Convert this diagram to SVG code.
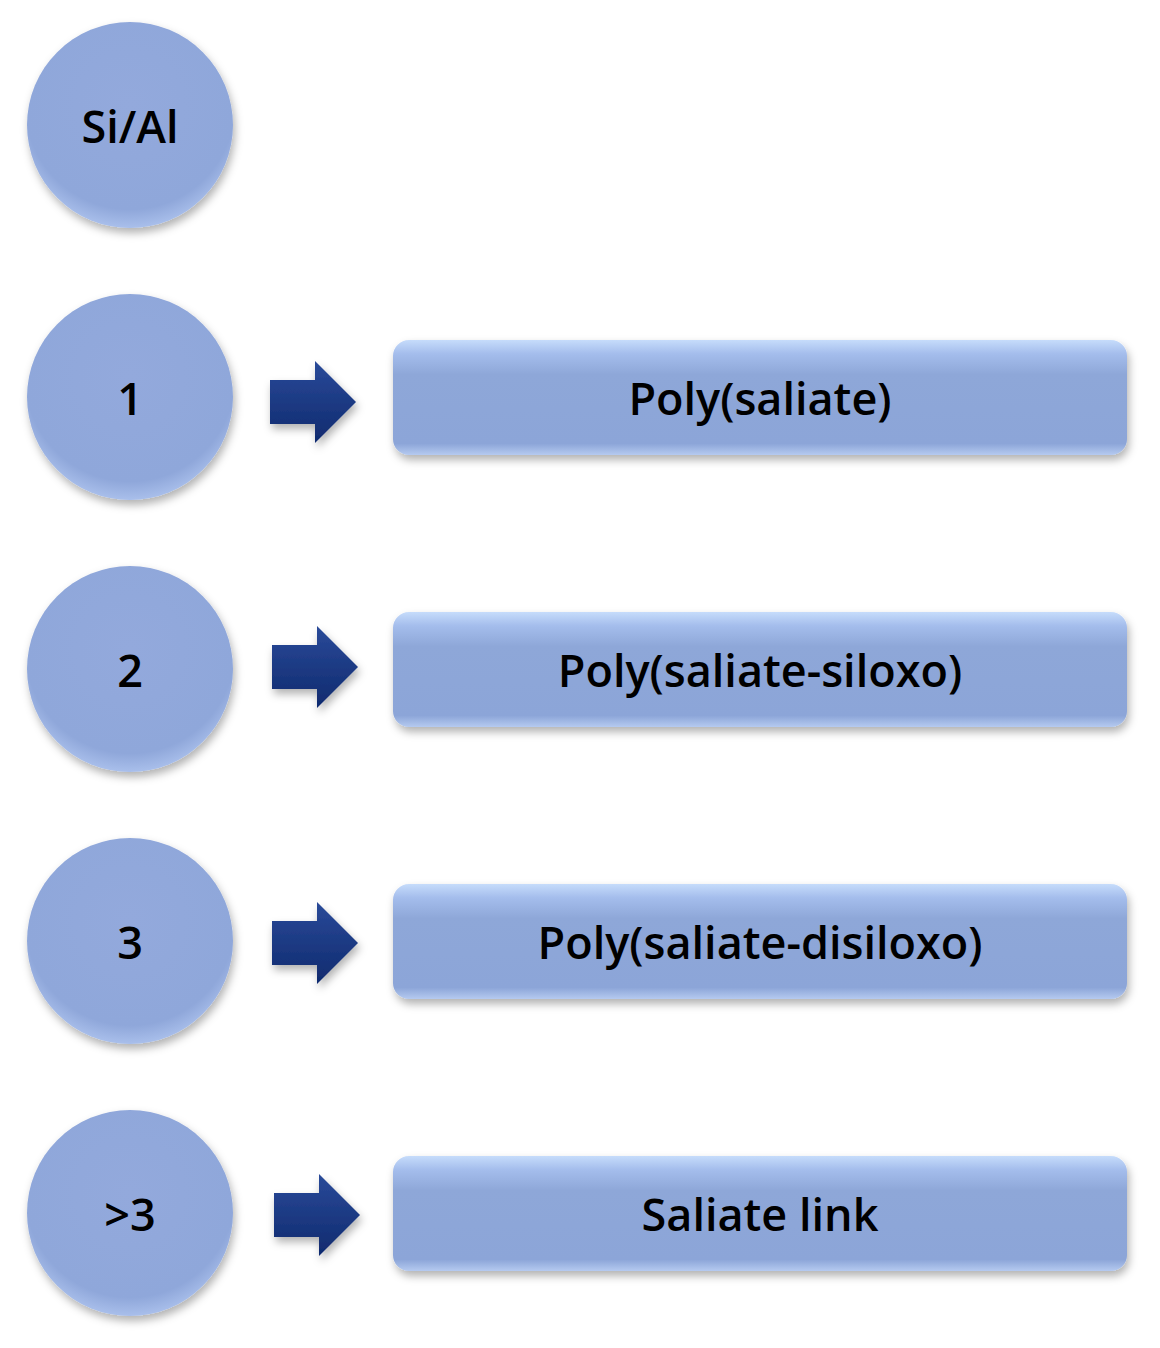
<svg xmlns="http://www.w3.org/2000/svg" width="1160" height="1348" viewBox="0 0 1160 1348">
<style>
.t{font-family:"Open Sans","Liberation Sans",sans-serif;font-weight:600;font-size:45px;fill:#000;text-anchor:middle;dominant-baseline:central}
</style>
<defs>
<radialGradient id="cg" cx="0.5" cy="0.4" r="0.6">
<stop offset="0" stop-color="#93a9dc"/><stop offset="0.85" stop-color="#8fa7da"/><stop offset="1" stop-color="#a9bfeb"/>
</radialGradient>
<linearGradient id="bg" x1="0" y1="0" x2="0" y2="1">
<stop offset="0" stop-color="#c6dcfb"/><stop offset="0.12" stop-color="#a4bdec"/><stop offset="0.3" stop-color="#8ea7d8"/><stop offset="0.9" stop-color="#8ca5d8"/><stop offset="1" stop-color="#b5caf0"/>
</linearGradient>
<linearGradient id="ag" x1="0" y1="0" x2="0" y2="1">
<stop offset="0" stop-color="#2a4a99"/><stop offset="1" stop-color="#0f2a6e"/>
</linearGradient>
<filter id="sh" x="-20%" y="-20%" width="140%" height="150%"><feDropShadow dx="2" dy="5" stdDeviation="4" flood-color="#000" flood-opacity="0.3"/></filter>
<g id="arr"><path d="M0,-22 H45 V-41 L86,0 L45,41 V22 H0 Z" fill="url(#ag)"/></g>
</defs>
<g id="n0"><circle cx="130" cy="125" r="103" fill="url(#cg)" filter="url(#sh)"/><text class="t" x="130" y="125">Si/Al</text></g>
<g id="n1"><circle cx="130" cy="397" r="103" fill="url(#cg)" filter="url(#sh)"/><text class="t" x="130" y="397">1</text></g>
<g id="n2"><circle cx="130" cy="669" r="103" fill="url(#cg)" filter="url(#sh)"/><text class="t" x="130" y="669">2</text></g>
<g id="n3"><circle cx="130" cy="941" r="103" fill="url(#cg)" filter="url(#sh)"/><text class="t" x="130" y="941">3</text></g>
<g id="n4"><circle cx="130" cy="1213" r="103" fill="url(#cg)" filter="url(#sh)"/><text class="t" x="130" y="1213">&gt;3</text></g>
<g id="b1"><rect x="393" y="340" width="734" height="115" rx="16" fill="url(#bg)" filter="url(#sh)"/><text class="t" x="760" y="397">Poly(saliate)</text></g>
<g id="b2"><rect x="393" y="612" width="734" height="115" rx="16" fill="url(#bg)" filter="url(#sh)"/><text class="t" x="760" y="669">Poly(saliate-siloxo)</text></g>
<g id="b3"><rect x="393" y="884" width="734" height="115" rx="16" fill="url(#bg)" filter="url(#sh)"/><text class="t" x="760" y="941">Poly(saliate-disiloxo)</text></g>
<g id="b4"><rect x="393" y="1156" width="734" height="115" rx="16" fill="url(#bg)" filter="url(#sh)"/><text class="t" x="760" y="1213">Saliate link</text></g>
<g id="connectors" filter="url(#sh)">
<use href="#arr" x="270" y="402"/>
<use href="#arr" x="272" y="667"/>
<use href="#arr" x="272" y="943"/>
<use href="#arr" x="274" y="1215"/>
</g>
</svg>
